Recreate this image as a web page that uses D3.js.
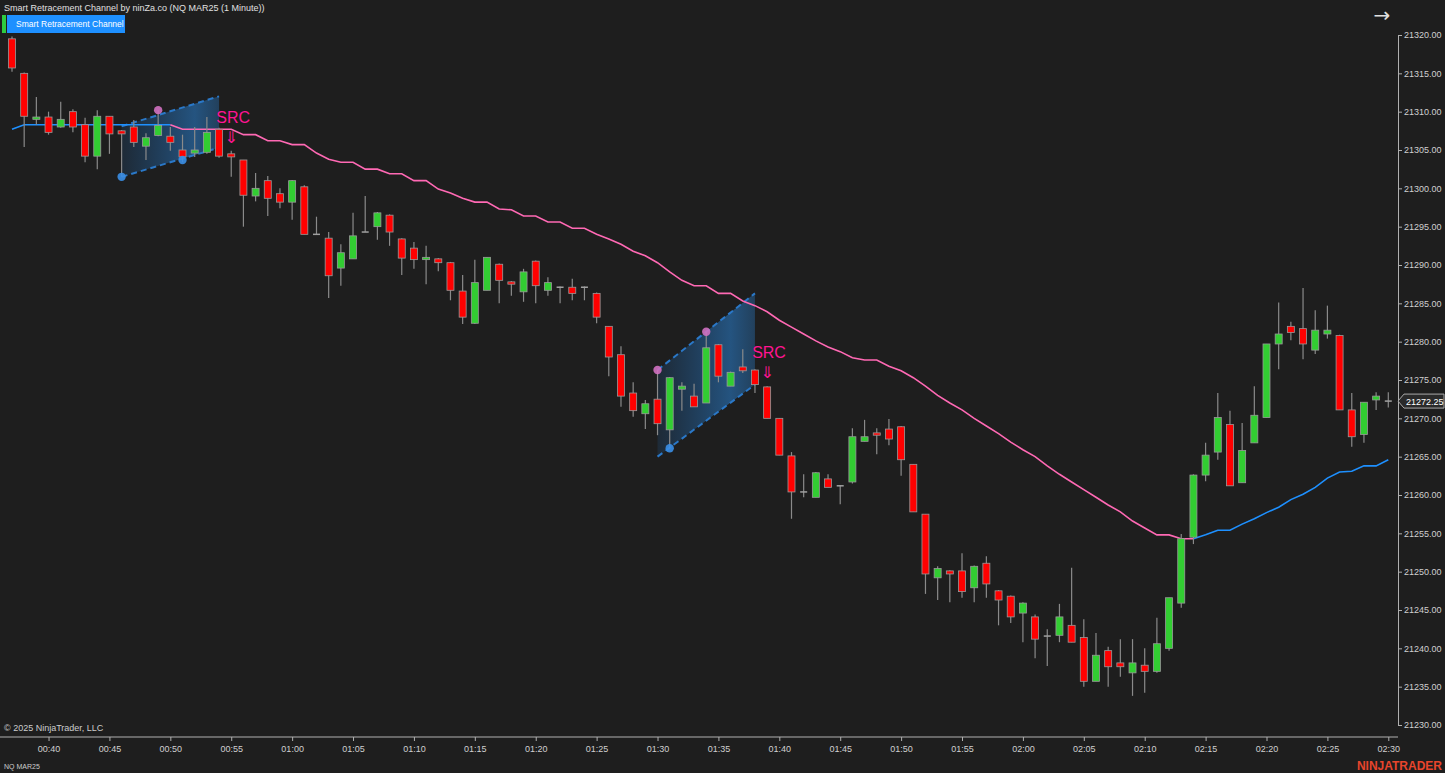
<!DOCTYPE html>
<html><head><meta charset="utf-8">
<script src="https://cdn.jsdelivr.net/npm/d3@7"></script>
<style>
html,body{margin:0;padding:0;background:#1e1e1e;overflow:hidden}
svg{display:block;font-family:Arial,"Liberation Sans",sans-serif}
</style></head><body>
<svg id="c" width="1445" height="773"></svg>
<script>
const startMinute = 37; // 00:37
const opens =  [21319.5,21315.0,21309.0,21309.3,21308.0,21310.0,21308.3,21304.2,21309.4,21307.5,21308.0,21305.5,21306.9,21306.8,21305.0,21304.6,21304.7,21307.7,21304.5,21303.7,21299.0,21301.0,21299.3,21298.2,21300.2,21294.0,21293.5,21289.6,21290.8,21294.3,21295.0,21296.5,21293.4,21292.2,21290.7,21290.8,21290.3,21286.6,21282.4,21286.7,21290.1,21287.8,21286.5,21290.5,21286.7,21287.1,21287.1,21287.1,21286.3,21282.0,21278.3,21273.3,21270.6,21272.5,21268.5,21273.8,21272.9,21272.0,21279.6,21274.2,21276.7,21276.3,21274.1,21270.0,21265.1,21260.4,21259.7,21262.1,21261.2,21261.7,21267.0,21268.1,21268.6,21268.9,21264.0,21257.5,21249.2,21250.1,21250.1,21247.9,21251.1,21247.5,21246.8,21244.6,21244.1,21241.6,21241.7,21243.0,21241.4,21235.7,21239.7,21238.1,21236.8,21237.8,21237.0,21240.0,21245.9,21254.5,21262.6,21265.6,21269.2,21261.6,21266.8,21270.1,21279.7,21282.0,21281.7,21278.9,21281.0,21280.8,21271.1,21267.9,21272.4,21272.25];
const highs =  [21319.8,21315.1,21311.9,21310.0,21311.3,21310.3,21309.2,21310.2,21309.4,21307.6,21308.9,21307.2,21310.2,21308.0,21307.0,21308.0,21309.3,21307.9,21304.9,21303.7,21302.0,21301.6,21300.0,21301.1,21300.4,21296.3,21294.3,21292.7,21296.8,21299.0,21296.9,21296.6,21293.5,21293.0,21292.5,21290.9,21290.4,21288.7,21290.7,21291.0,21290.2,21287.9,21289.5,21290.6,21288.4,21287.2,21288.2,21287.2,21286.4,21282.0,21279.4,21274.7,21272.4,21276.3,21275.4,21274.7,21274.5,21281.3,21279.7,21276.1,21279.0,21276.4,21274.2,21270.0,21265.6,21262.7,21263.0,21262.7,21261.3,21268.7,21269.8,21268.7,21269.9,21269.0,21264.0,21257.5,21250.7,21250.2,21252.4,21250.8,21252.0,21247.6,21246.9,21246.0,21244.4,21242.5,21245.8,21250.5,21243.8,21242.0,21240.2,21241.2,21241.2,21240.0,21244.0,21246.6,21254.9,21262.7,21266.8,21273.3,21271.0,21269.4,21274.2,21279.7,21285.1,21282.6,21287.0,21284.1,21284.7,21280.9,21273.3,21272.1,21273.4,21273.4];
const lows =   [21315.2,21305.4,21308.3,21307.0,21307.9,21307.3,21303.4,21302.5,21304.5,21301.5,21305.4,21303.7,21306.8,21304.9,21303.4,21304.1,21304.5,21304.0,21301.5,21295.0,21298.3,21296.4,21297.4,21295.9,21294.0,21294.0,21285.7,21287.3,21290.8,21294.3,21293.3,21292.5,21288.7,21289.5,21287.5,21289.2,21285.4,21282.3,21282.3,21286.7,21285.0,21286.0,21285.2,21285.0,21286.0,21285.0,21285.4,21285.4,21282.4,21275.5,21271.5,21270.2,21268.6,21267.8,21266.1,21271.0,21271.5,21272.0,21274.7,21274.2,21275.9,21273.3,21270.0,21265.2,21256.9,21259.7,21259.7,21261.0,21258.8,21261.5,21267.0,21265.3,21266.5,21262.5,21257.8,21247.1,21246.3,21246.0,21246.6,21246.0,21246.6,21243.0,21243.3,21240.8,21238.7,21237.7,21240.8,21240.8,21235.0,21235.7,21235.0,21236.3,21233.8,21234.2,21236.8,21239.7,21245.3,21253.6,21261.8,21264.6,21261.2,21261.6,21266.8,21270.1,21276.4,21280.2,21277.7,21278.4,21280.4,21271.1,21266.3,21266.8,21271.1,21271.4];
const closes = [21315.7,21309.4,21309.3,21307.3,21309.0,21308.0,21304.2,21309.4,21307.1,21307.1,21306.0,21306.6,21308.2,21306.0,21304.1,21305.0,21307.3,21304.2,21304.1,21299.1,21300.0,21298.7,21298.2,21301.0,21294.0,21294.0,21288.6,21291.6,21293.8,21294.3,21296.8,21294.3,21290.9,21290.7,21291.0,21290.3,21286.7,21283.2,21287.7,21291.0,21288.0,21287.5,21289.1,21287.3,21287.7,21287.1,21286.3,21287.1,21283.2,21278.0,21272.9,21271.0,21271.9,21269.3,21275.3,21274.2,21271.5,21279.2,21275.5,21276.0,21276.2,21274.4,21270.0,21265.2,21260.4,21260.4,21262.9,21261.0,21261.2,21267.6,21267.6,21267.8,21267.3,21264.6,21257.8,21249.7,21250.4,21249.7,21247.4,21250.7,21248.4,21246.3,21244.1,21245.9,21241.2,21241.6,21244.1,21240.8,21235.7,21239.1,21237.6,21237.6,21238.1,21237.0,21240.6,21246.6,21254.3,21262.6,21265.2,21270.1,21261.2,21265.8,21270.4,21279.7,21281.0,21281.2,21279.7,21281.5,21281.5,21271.1,21267.6,21272.1,21272.9,21272.25];
const trendLine = [21307.7,21308.3,21308.3,21308.3,21308.3,21308.3,21308.3,21308.3,21308.3,21308.3,21308.3,21308.3,21308.3,21308.3,21307.7,21307.7,21307.7,21307.7,21307.7,21307.0,21307.0,21306.2,21306.2,21305.7,21305.7,21304.6,21303.8,21303.4,21303.4,21302.5,21302.5,21301.9,21301.9,21301.0,21301.0,21299.9,21299.4,21298.7,21298.2,21298.2,21297.3,21297.2,21296.4,21296.4,21295.6,21295.6,21294.8,21294.8,21294.0,21293.4,21292.7,21291.8,21291.2,21290.3,21289.1,21288.0,21287.3,21287.3,21286.3,21286.3,21285.3,21284.7,21283.9,21282.8,21281.9,21281.0,21280.1,21279.3,21278.7,21277.9,21277.6,21277.6,21276.8,21276.2,21275.3,21274.2,21273.0,21272.0,21271.1,21270.0,21269.0,21268.0,21266.9,21265.9,21265.0,21263.8,21262.7,21261.7,21260.7,21259.7,21258.7,21257.8,21256.6,21255.7,21254.8,21254.8,21254.3,21254.3,21254.8,21255.4,21255.4,21256.2,21256.9,21257.7,21258.4,21259.4,21260.1,21261.0,21262.2,21263.0,21263.1,21263.8,21263.8,21264.6];
const trendSegments = [[0,13,"up"],[13,97,"down"],[97,113,"up"]];
// channels: [startBar, endBar, topStart, topEnd, botStart, botEnd]
const channels = [[9,17,21308.1,21312.0,21301.5,21305.3],[53,61,21276.3,21286.3,21265.0,21274.4]];
const pivotDots = [[9,21301.5,"low"],[12,21310.2,"high"],[14,21303.7,"low"],[53,21276.3,"high"],[57,21281.3,"high"],[54,21266.1,"low"]];
const signalBars = [18,62];
const priceTicks = [21230,21235,21240,21245,21250,21255,21260,21265,21270,21275,21280,21285,21290,21295,21300,21305,21310,21315,21320];
const timeTicks = ["00:40","00:45","00:50","00:55","01:00","01:05","01:10","01:15","01:20","01:25","01:30","01:35","01:40","01:45","01:50","01:55","02:00","02:05","02:10","02:15","02:20","02:25","02:30"];
const lastPrice = 21272.25;

const svg = d3.select("#c");
const x = d3.scaleLinear().domain([0,113]).range([12,1388.3]);
const y = d3.scaleLinear().domain([21230,21320]).range([725,35]);
const C = {up:"#1e90ff", down:"#ff69b4", green:"#32cd32", red:"#ff0000", text:"#d0d0d0", sig:"#ff1493"};

svg.append("rect").attr("width",1445).attr("height",773).attr("fill","#1e1e1e");

const defs = svg.append("defs");
const g = defs.append("linearGradient").attr("id","chg").attr("x1","0").attr("x2","1").attr("y1","0").attr("y2","0");
g.append("stop").attr("offset","0").attr("stop-color","#1e6fc0").attr("stop-opacity",0.15);
g.append("stop").attr("offset","0.75").attr("stop-color","#2a80d0").attr("stop-opacity",0.55);
g.append("stop").attr("offset","1").attr("stop-color","#2a80d0").attr("stop-opacity",0.35);
channels.forEach(ch=>{
  const [a,b,t0,t1,b0,b1]=ch;
  svg.append("path").attr("d",`M${x(a)},${y(t0)}L${x(b)},${y(t1)}L${x(b)},${y(b1)}L${x(a)},${y(b0)}Z`).attr("fill","url(#chg)");
  [[t0,t1],[b0,b1]].forEach(([p0,p1])=>svg.append("line").attr("x1",x(a)).attr("y1",y(p0)).attr("x2",x(b)).attr("y2",y(p1))
    .attr("stroke","#2a78c8").attr("stroke-width",2).attr("stroke-dasharray","6,4"));
});

trendSegments.forEach(([a,b,d])=>{
  const pts=d3.range(a,b+1).map(i=>[x(i),y(trendLine[i])]);
  svg.append("path").attr("d",d3.line()(pts)).attr("fill","none").attr("stroke",C[d]).attr("stroke-width",1.6);
});

const bw=7;
d3.range(opens.length).forEach(i=>{
  const o=opens[i],h=highs[i],l=lows[i],c=closes[i],cx=x(i);
  svg.append("line").attr("x1",cx).attr("x2",cx).attr("y1",y(h)).attr("y2",y(l)).attr("stroke","#8a8a8a").attr("stroke-width",1.2);
  if(Math.abs(o-c)<0.05){
    svg.append("line").attr("x1",cx-bw/2).attr("x2",cx+bw/2).attr("y1",y(c)).attr("y2",y(c)).attr("stroke","#a0a0a0").attr("stroke-width",1.5);
  } else {
    const top=y(Math.max(o,c)),bot=y(Math.min(o,c));
    svg.append("rect").attr("x",cx-bw/2).attr("y",top).attr("width",bw).attr("height",Math.max(bot-top,2))
      .attr("fill",c>o?C.green:C.red).attr("stroke","#9a9a9a").attr("stroke-width",0.8);
  }
});

pivotDots.forEach(([i,p,t])=>svg.append("circle").attr("cx",x(i)).attr("cy",y(p)).attr("r",4.2)
  .attr("fill",t==="high"?"#d070c0":"#3a8ee6").attr("opacity",0.9));

signalBars.forEach(i=>{
  const yh=y(highs[i]);
  svg.append("text").attr("x",x(i)-15).attr("y",yh-28).attr("fill",C.sig).attr("font-size",16).text("SRC");
  svg.append("text").attr("x",x(i)).attr("y",yh-8).attr("text-anchor","middle").attr("fill",C.sig).attr("font-size",16).attr("font-family","DejaVu Sans").text("⇓");
});

const yAxis=svg.append("g").attr("transform","translate(1398,0)").call(d3.axisRight(y).tickValues(priceTicks).tickFormat(d3.format(".2f")).tickSize(4));
yAxis.select(".domain").attr("stroke","#b0b0b0");
yAxis.selectAll("line").attr("stroke","#b0b0b0");
yAxis.selectAll("text").attr("fill",C.text).attr("font-size",9).attr("x",6);
const xAxis=svg.append("g").attr("transform","translate(0,737)").call(d3.axisBottom(x).tickValues(timeTicks.map((t,k)=>3+5*k)).tickFormat((d,k)=>timeTicks[k]).tickSize(4));
xAxis.select(".domain").attr("stroke","#b0b0b0").attr("d","M0,0H1398");
xAxis.selectAll("line").attr("stroke","#b0b0b0");
xAxis.selectAll("text").attr("fill",C.text).attr("font-size",9).attr("dy","0.9em");

const ly=y(lastPrice);
svg.append("path").attr("d",`M1398,${ly}L1404,${ly-7}H1444V${ly+7}H1404Z`).attr("fill","#2a2a2a").attr("stroke","#aaaaaa");
svg.append("text").attr("x",1406).attr("y",ly+3.5).attr("fill","#ffffff").attr("font-size",9).text("21272.25");

svg.append("text").attr("x",4).attr("y",11).attr("fill","#e0e0e0").attr("font-size",9).text("Smart Retracement Channel by ninZa.co (NQ MAR25 (1 Minute))");
svg.append("rect").attr("x",2).attr("y",15).attr("width",4).attr("height",18).attr("fill","#2ecc40");
svg.append("rect").attr("x",7).attr("y",15).attr("width",118).attr("height",18).attr("fill","#1e90ff");
svg.append("text").attr("x",16).attr("y",27).attr("fill","#ffffff").attr("font-size",8.5).text("Smart Retracement Channel");
svg.append("text").attr("x",1382).attr("y",22).attr("text-anchor","middle").attr("fill","#e0e0e0").attr("font-size",20).attr("font-family","DejaVu Sans").text("→");
svg.append("text").attr("x",4).attr("y",731).attr("fill","#cccccc").attr("font-size",9).text("© 2025 NinjaTrader, LLC");
svg.append("text").attr("x",4).attr("y",769).attr("fill","#cccccc").attr("font-size",7).text("NQ MAR25");
svg.append("text").attr("x",1442).attr("y",770).attr("text-anchor","end").attr("fill","#e8452c").attr("font-size",12).attr("font-weight","bold").text("NINJATRADER");
</script></body></html>
